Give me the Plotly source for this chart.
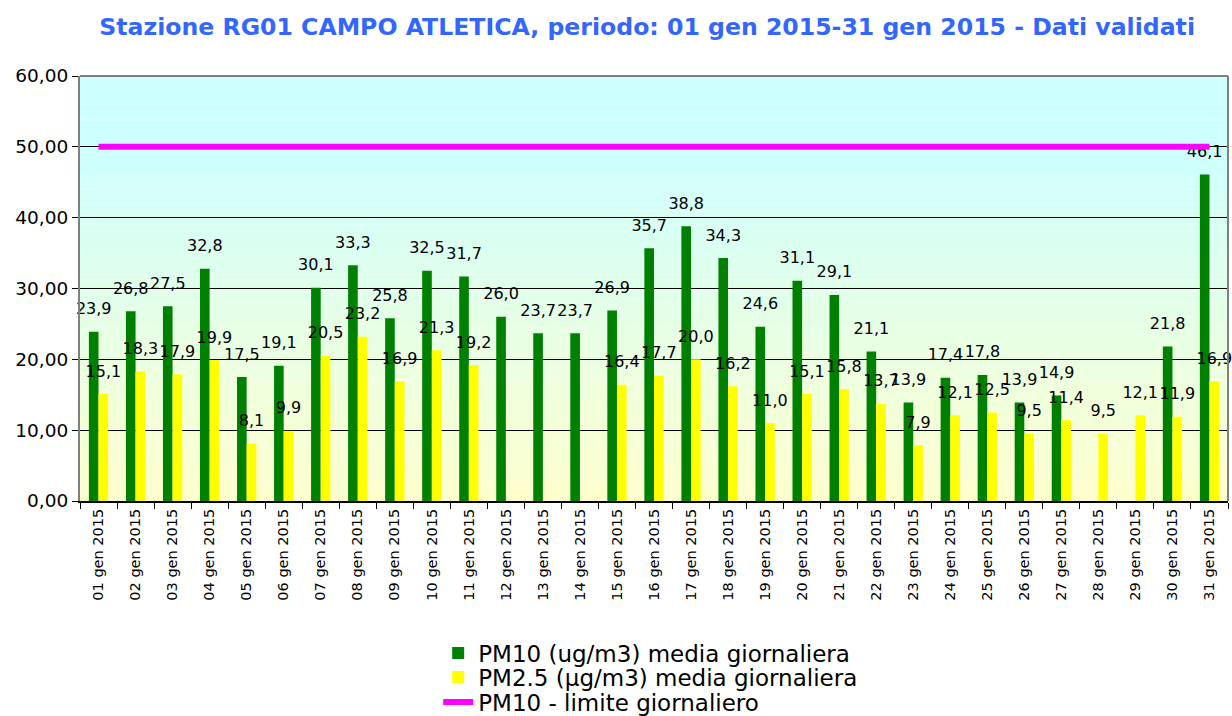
import plotly.graph_objects as go

days = [f"{d:02d} gen 2015" for d in range(1, 32)]
pm10 = [23.9, 26.8, 27.5, 32.8, 17.5, 19.1, 30.1, 33.3, 25.8, 32.5, 31.7, 26.0, 23.7, 23.7, 26.9,
        35.7, 38.8, 34.3, 24.6, 31.1, 29.1, 21.1, 13.9, 17.4, 17.8, 13.9, 14.9, None, None, 21.8, 46.1]
pm25 = [15.1, 18.3, 17.9, 19.9, 8.1, 9.9, 20.5, 23.2, 16.9, 21.3, 19.2, None, None, None, 16.4,
        17.7, 20.0, 16.2, 11.0, 15.1, 15.8, 13.7, 7.9, 12.1, 12.5, 9.5, 11.4, 9.5, 12.1, 11.9, 16.9]
limit = [50] * 31

LABEL_FONT = dict(family="DejaVu Sans", size=16, color="black")

fig = go.Figure()
fig.add_trace(go.Bar(x=days, y=pm10, name="PM10 (ug/m3) media giornaliera",
                     marker_color="#008000", marker_line_width=0, offsetgroup="a",
                     legend="legend"))
fig.add_trace(go.Bar(x=days, y=pm25, name="PM2.5 (µg/m3) media giornaliera",
                     marker_color="#FFFF00", marker_line_width=0, offsetgroup="b",
                     legend="legend2"))
# value labels (grouped scatter text aligned with the bars)
fig.add_trace(go.Scatter(x=days, y=pm10, mode="markers+text", texttemplate="%{y:.1f}",
                         textposition="top center", textfont=LABEL_FONT, offsetgroup="a",
                         marker=dict(size=20, color="rgba(0,0,0,0)"), showlegend=False,
                         hoverinfo="skip", cliponaxis=False))
fig.add_trace(go.Scatter(x=days, y=pm25, mode="markers+text", texttemplate="%{y:.1f}",
                         textposition="top center", textfont=LABEL_FONT, offsetgroup="b",
                         marker=dict(size=20, color="rgba(0,0,0,0)"), showlegend=False,
                         hoverinfo="skip", cliponaxis=False))
fig.add_trace(go.Scatter(x=days, y=limit, name="PM10 - limite giornaliero", mode="lines",
                         line=dict(color="#FF00FF", width=6), xaxis="x2", legend="legend3"))

# background gradient (cyan top -> light yellow bottom)
shapes = []
n = 60
top = (204, 255, 255)
bot = (255, 255, 204)
for i in range(n):
    y0 = i / n
    y1 = (i + 1) / n
    f = min(1.0, ((y0 + y1) / 2) / (50 / 60))
    c = tuple(round(bot[k] + (top[k] - bot[k]) * f) for k in range(3))
    shapes.append(dict(type="rect", xref="paper", yref="paper", x0=0, x1=1, y0=y0, y1=y1,
                       fillcolor=f"rgb{c}", line_width=0, layer="below"))
shapes.append(dict(type="line", xref="paper", yref="paper", x0=0, x1=1, y0=1, y1=1,
                   line=dict(color="#808080", width=2)))
shapes.append(dict(type="line", xref="paper", yref="paper", x0=1, x1=1, y0=0, y1=1,
                   line=dict(color="#808080", width=2)))

LEG_FONT = dict(family="DejaVu Sans", size=23, color="black")
legx = 0.312
fig.update_layout(
    width=1232, height=716,
    margin=dict(l=80, r=4, t=76, b=215, autoexpand=False),
    paper_bgcolor="white", plot_bgcolor="white",
    separators=",.",
    barmode="group", bargap=0.48, bargroupgap=0,
    scattermode="group", scattergap=0.48,
    shapes=shapes,
    title=dict(text="<b>Stazione RG01 CAMPO ATLETICA, periodo: 01 gen 2015-31 gen 2015 - Dati validati</b>",
               font=dict(family="DejaVu Sans", size=23.6, color="#3366FF"),
               x=0.494, xref="paper", xanchor="center", y=1 - 27 / 716, yanchor="middle"),
    font=dict(family="DejaVu Sans", color="black"),
    showlegend=True,
    legend=dict(x=legx, xanchor="left", y=-0.3576, yanchor="middle", font=LEG_FONT,
                bgcolor="rgba(0,0,0,0)"),
    legend2=dict(x=legx, xanchor="left", y=-0.414, yanchor="middle", font=LEG_FONT,
                 bgcolor="rgba(0,0,0,0)"),
    legend3=dict(x=legx, xanchor="left", y=-0.473, yanchor="middle", font=LEG_FONT,
                 bgcolor="rgba(0,0,0,0)"),
    xaxis2=dict(overlaying="x", visible=False, range=[-0.5, 30.5], categoryarray=days,
                categoryorder="array"),
)
fig.update_yaxes(range=[0, 60], dtick=10, tickformat=".2f", showgrid=True, gridcolor="black",
                 gridwidth=1, ticks="outside", ticklen=6, tickcolor="black",
                 showline=True, linecolor="#808080", linewidth=2, automargin=False,
                 tickfont=dict(family="DejaVu Sans", size=18.5, color="black"), zeroline=False)
fig.update_layout(xaxis=dict(tickangle=-90, ticks="outside", tickson="boundaries", ticklen=6,
                             tickcolor="black", showline=True, linecolor="black", linewidth=2,
                             showgrid=False, automargin=False, range=[-0.5, 30.5],
                             tickfont=dict(family="DejaVu Sans", size=14.5, color="black")))

fig.write_html("out.html", config={"displayModeBar": False},
               post_script="document.body.style.margin='0px';document.body.style.overflow='hidden';")
